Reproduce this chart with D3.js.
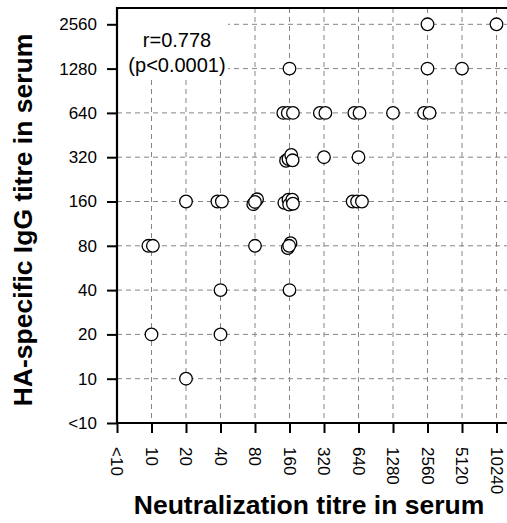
<!DOCTYPE html>
<html>
<head>
<meta charset="utf-8">
<script src="https://cdn.jsdelivr.net/npm/d3@7"></script>
<style>
  body { margin: 0; background: #fff; }
  svg { display: block; font-family: "Liberation Sans", Arial, sans-serif; }
</style>
</head>
<body>
<div class="center"></div>
<script>
const w = 507;
const h = 523;

// tick labels (log2 steps)
const xLabels = ["<10", "10", "20", "40", "80", "160", "320", "640", "1280", "2560", "5120", "10240"];
const yLabels = ["<10", "10", "20", "40", "80", "160", "320", "640", "1280", "2560"];

// each point: level index on each axis (decimals = jitter as seen in the picture)
const neutLevel = [2, 1, 3, 3, 5,
    0.91, 1.04, 4, 4.95, 5.03, 4.99,
    2, 2.91, 3.04, 3.95, 4.06, 4.0,
    4.85, 4.97, 4.99, 5.08, 5.1,
    6.83, 6.96, 7.1,
    4.9, 4.97, 5.05, 5.09, 6.0, 7.0,
    4.82, 4.95, 5.1, 5.88, 6.04, 6.88, 7.03, 8, 8.9, 9.06,
    5, 9, 10, 9, 11];
const iggLevel = [1, 2, 2, 3, 3,
    4, 4, 4, 3.95, 4.06, 4.0,
    5, 5, 5, 4.94, 5.05, 4.99,
    4.97, 5.04, 4.93, 5.04, 4.95,
    5, 5, 5,
    5.92, 5.96, 6.05, 5.93, 6, 6,
    7, 7, 7, 7, 7, 7, 7, 7, 7, 7,
    8, 8, 8, 9, 9];

const padding = {left: 117, top: 8, bottom: 100};

const svg = d3.select(".center")
    .append("svg")
    .attr("width", w)
    .attr("height", h);

const xScale = d3.scaleLinear().domain([0, 11]).range([padding.left, 496.5]);
const yScale = d3.scaleLinear().domain([0, 9]).range([h - padding.bottom, 24.3]);
const yBottom = yScale(0);

// dashed grid
const grid = svg.append("g")
    .attr("stroke", "#858585")
    .attr("stroke-width", 1)
    .attr("stroke-dasharray", "5,4");

grid.selectAll("line.vx")
    .data(d3.range(1, xLabels.length))
    .enter()
    .append("line")
    .attr("x1", d => xScale(d))
    .attr("x2", d => xScale(d))
    .attr("y1", padding.top)
    .attr("y2", yBottom);

grid.selectAll("line.hy")
    .data(d3.range(1, yLabels.length))
    .enter()
    .append("line")
    .attr("x1", padding.left)
    .attr("x2", w)
    .attr("y1", d => yScale(d))
    .attr("y2", d => yScale(d));

// white box behind the correlation note
svg.append("rect")
    .attr("x", padding.left + 1)
    .attr("y", padding.top + 1)
    .attr("width", 110)
    .attr("height", 70)
    .attr("fill", "#fff");

svg.append("text")
    .attr("x", 177)
    .attr("y", 46.5)
    .attr("text-anchor", "middle")
    .attr("font-size", 20)
    .text("r=0.778");
svg.append("text")
    .attr("x", 177)
    .attr("y", 71.5)
    .attr("text-anchor", "middle")
    .attr("font-size", 20)
    .text("(p<0.0001)");

// points
svg.selectAll("circle")
    .data(neutLevel)
    .enter()
    .append("circle")
    .attr("cx", d => xScale(d))
    .attr("cy", (d, i) => yScale(iggLevel[i]))
    .attr("r", 6.3)
    .attr("fill", "#fff")
    .attr("stroke", "#000")
    .attr("stroke-width", 1.3);

// axes
const xAxis = d3.axisBottom(xScale)
    .tickValues(d3.range(xLabels.length))
    .tickFormat(i => xLabels[i])
    .tickSize(10)
    .tickSizeOuter(0);
const yAxis = d3.axisLeft(yScale)
    .tickValues(d3.range(yLabels.length))
    .tickFormat(i => yLabels[i])
    .tickSize(10)
    .tickSizeOuter(0)
    .tickPadding(10);

const gx = svg.append("g")
    .attr("transform", `translate(0,${yBottom})`)
    .call(xAxis);
gx.select(".domain").remove();
gx.selectAll(".tick line").attr("stroke-width", 2);
gx.selectAll(".tick text")
    .attr("font-size", 17)
    .attr("font-family", "Liberation Sans, Arial, sans-serif")
    .attr("text-anchor", "start")
    .attr("transform", "rotate(90)")
    .attr("x", 24)
    .attr("y", 0)
    .attr("dy", "0.36em");

const gy = svg.append("g")
    .attr("transform", `translate(${padding.left},0)`)
    .call(yAxis);
gy.select(".domain").remove();
gy.selectAll(".tick line").attr("stroke-width", 2);
gy.selectAll(".tick text")
    .attr("font-size", 17)
    .attr("font-family", "Liberation Sans, Arial, sans-serif");

// frame lines: left, bottom, top
svg.append("path")
    .attr("d", `M${w},${padding.top}H${padding.left}V${yBottom}H${w}`)
    .attr("fill", "none")
    .attr("stroke", "#000")
    .attr("stroke-width", 2.2);

// axis titles
svg.append("text")
    .attr("x", 309)
    .attr("y", 514)
    .attr("text-anchor", "middle")
    .attr("font-size", 26.5)
    .attr("font-weight", "bold")
    .text("Neutralization titre in serum");

svg.append("text")
    .attr("transform", "translate(32,220) rotate(-90)")
    .attr("text-anchor", "middle")
    .attr("font-size", 26.5)
    .attr("font-weight", "bold")
    .text("HA-specific IgG titre in serum");
</script>
</body>
</html>
